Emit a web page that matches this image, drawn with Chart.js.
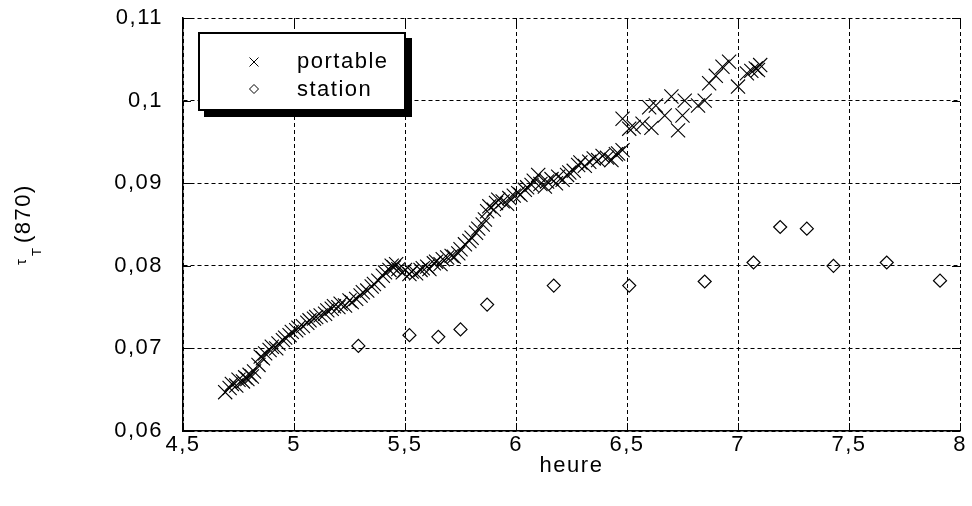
<!DOCTYPE html>
<html>
<head>
<meta charset="utf-8">
<script src="https://cdn.jsdelivr.net/npm/chart.js@4/dist/chart.umd.min.js"></script>
<style>
html,body{margin:0;padding:0;background:#fff;}
#c{display:block;}
</style>
</head>
<body>
<canvas id="c" width="972" height="506"></canvas>
<script>
// ---- data ----
const xTicks = [4.5, 5, 5.5, 6, 6.5, 7, 7.5, 8];
const yTicks = [0.06, 0.07, 0.08, 0.09, 0.1, 0.11];

const portableX = [
4.69,4.71,4.72,4.74,4.75,4.77,4.78,4.79,4.80,4.81,4.82,4.84,4.85,4.86,4.87,4.89,4.90,4.92,4.93,4.95,
4.96,4.98,4.99,5.01,5.02,5.04,5.06,5.07,5.09,5.10,5.12,5.14,5.15,5.17,5.18,5.20,5.21,5.23,5.25,5.26,
5.28,5.30,5.31,5.33,5.35,5.36,5.38,5.40,5.41,5.43,5.44,5.45,5.46,5.47,5.49,5.50,5.52,5.53,5.55,5.57,
5.58,5.60,5.61,5.63,5.64,5.66,5.67,5.69,5.71,5.72,5.74,5.75,5.77,5.79,5.80,5.82,5.83,5.85,5.86,5.87,
5.88,5.90,5.91,5.92,5.94,5.96,5.97,5.99,6.01,6.02,6.04,6.05,6.07,6.08,6.10,6.11,6.13,6.14,6.16,6.18,
6.19,6.21,6.23,6.24,6.26,6.28,6.29,6.31,6.33,6.35,6.37,6.39,6.41,6.43,6.45,6.46,6.48,
6.48,6.51,6.53,6.57,6.61,6.60,6.63,6.67,6.70,6.73,6.75,6.76,6.82,6.85,6.87,6.90,6.93,6.96,7.00,7.04,
7.06,7.08,7.09,7.10
];
const portableY = [
0.0647,0.0652,0.0657,0.0655,0.0662,0.0660,0.0665,0.0663,0.0668,0.0666,0.0672,0.0680,0.0690,0.0688,0.0694,0.0698,0.0702,0.0700,0.0706,0.0710,
0.0713,0.0716,0.0720,0.0722,0.0725,0.0727,0.0731,0.0734,0.0736,0.0738,0.0740,0.0742,0.0746,0.0748,0.0751,0.0750,0.0754,0.0752,0.0758,0.0756,
0.0760,0.0764,0.0768,0.0770,0.0775,0.0778,0.0782,0.0788,0.0792,0.0795,0.0800,0.0798,0.0802,0.0796,0.0792,0.0795,0.0790,0.0793,0.0791,0.0795,
0.0797,0.0799,0.0796,0.0803,0.0805,0.0802,0.0808,0.0810,0.0812,0.0811,0.0815,0.0820,0.0826,0.0830,0.0834,0.0840,0.0845,0.0850,0.0856,0.0866,
0.0872,0.0868,0.0876,0.0880,0.0878,0.0875,0.0882,0.0885,0.0888,0.0886,0.0892,0.0895,0.0898,0.0903,0.0910,0.0899,0.0896,0.0902,0.0905,0.0900,
0.0908,0.0904,0.0910,0.0913,0.0915,0.0922,0.0925,0.0921,0.0926,0.0930,0.0928,0.0933,0.0931,0.0928,0.0935,0.0936,0.0940,
0.0978,0.0966,0.0968,0.0972,0.0967,0.0992,0.0994,0.0982,0.1005,0.0964,0.0982,0.1000,0.0994,0.1000,0.1021,0.1030,0.1041,0.1047,0.1017,0.1033,
0.1036,0.1039,0.1037,0.1043
];

const stationX = [5.29, 5.52, 5.65, 5.75, 5.87, 6.17, 6.51, 6.85, 7.07, 7.19, 7.31, 7.43, 7.67, 7.91];
const stationY = [0.0703, 0.0716, 0.0714, 0.0723, 0.0753, 0.0776, 0.0776, 0.0781, 0.0804, 0.0847, 0.0845, 0.0800, 0.0804, 0.0782];

const seriesNames = ['portable', 'station'];
const xTitle = 'heure';

// ---- styling ----
const FONT = "'Liberation Sans', Arial, sans-serif";
const fmt = v => String(Number(v.toFixed(2))).replace('.', ',');

const portablePts = portableX.map((x, i) => ({x, y: portableY[i]}));
const stationPts = stationX.map((x, i) => ({x, y: stationY[i]}));

const decor = {
  id: 'decor',
  beforeDraw(chart) {
    const c = chart.ctx;
    c.save();
    c.fillStyle = '#fff';
    c.fillRect(0, 0, chart.width, chart.height);
    c.restore();
    c.letterSpacing = '1.5px';
  },
  afterDraw(chart) {
    const c = chart.ctx;
    const a = chart.chartArea;
    const xs = chart.scales.x, ys = chart.scales.y;
    c.save();
    c.letterSpacing = '0px';
    // inward tick marks on all sides
    c.strokeStyle = '#000';
    c.lineWidth = 1;
    c.setLineDash([]);
    c.beginPath();
    const TL = 8;
    xTicks.forEach(v => {
      const px = Math.round(xs.getPixelForValue(v)) + 0.5;
      c.moveTo(px, a.bottom); c.lineTo(px, a.bottom - TL);
      c.moveTo(px, a.top); c.lineTo(px, a.top + TL);
    });
    yTicks.forEach(v => {
      const py = Math.round(ys.getPixelForValue(v)) + 0.5;
      c.moveTo(a.left, py); c.lineTo(a.left + TL, py);
      c.moveTo(a.right, py); c.lineTo(a.right - TL, py);
    });
    c.stroke();

    // x title
    c.fillStyle = '#000';
    c.letterSpacing = '1.5px';
    c.font = '22px ' + FONT;
    c.textAlign = 'center';
    c.textBaseline = 'middle';
    c.fillText(xTitle, (a.left + a.right) / 2, 466);

    // y title (rotated): tau, subscript T, (870)
    c.save();
    c.rotate(-Math.PI / 2);
    c.textAlign = 'left';
    c.textBaseline = 'alphabetic';
    c.letterSpacing = '0px';
    c.font = '15px ' + FONT;
    c.fillText('τ', -265, 26);
    c.font = '13px ' + FONT;
    c.fillText('T', -256, 41);
    c.letterSpacing = '1.5px';
    c.font = '22px ' + FONT;
    c.fillText('(870)', -243, 30);
    c.restore();

    // legend box with shadow
    const L = 198, T = 32, W = 208, H = 79;
    c.fillStyle = '#000';
    c.fillRect(L + 6, T + 6, W, H);
    c.fillStyle = '#fff';
    c.fillRect(L, T, W, H);
    c.lineWidth = 2;
    c.strokeStyle = '#000';
    c.strokeRect(L + 1, T + 1, W - 2, H - 2);
    // markers
    c.lineWidth = 1;
    c.beginPath();
    c.moveTo(249.5, 57.5); c.lineTo(258.5, 66.5);
    c.moveTo(258.5, 57.5); c.lineTo(249.5, 66.5);
    c.stroke();
    c.beginPath();
    c.moveTo(254, 84.5); c.lineTo(258.5, 89); c.lineTo(254, 93.5); c.lineTo(249.5, 89); c.closePath();
    c.stroke();
    c.fillStyle = '#000';
    c.font = '22px ' + FONT;
    c.textAlign = 'left';
    c.textBaseline = 'middle';
    c.letterSpacing = '1.5px';
    c.fillText(seriesNames[0], 297, 62);
    c.fillText(seriesNames[1], 297, 90);
    c.restore();
  }
};

new Chart(document.getElementById('c'), {
  type: 'scatter',
  data: {
    datasets: [
      {
        label: seriesNames[0],
        data: portablePts,
        pointStyle: 'crossRot',
        pointRadius: 10,
        borderColor: '#000',
        backgroundColor: '#000',
        pointBorderWidth: 1.1,
        showLine: false
      },
      {
        label: seriesNames[1],
        data: stationPts,
        pointStyle: 'rectRot',
        pointRadius: 6.5,
        borderColor: '#000',
        backgroundColor: 'rgba(255,255,255,0)',
        pointBorderWidth: 1.2,
        showLine: false
      }
    ]
  },
  options: {
    responsive: false,
    devicePixelRatio: 1,
    animation: false,
    events: [],
    layout: { padding: { left: 0, right: 12, top: 18, bottom: 0 } },
    plugins: { legend: { display: false }, tooltip: { enabled: false } },
    scales: {
      x: {
        type: 'linear',
        min: 4.5, max: 8,
        afterFit: s => { s.height = 75; s.paddingLeft = 0; s.paddingRight = 0; },
        afterBuildTicks: s => { s.ticks = xTicks.map(v => ({value: v})); },
        grid: { color: '#000', lineWidth: 1, drawTicks: false },
        border: { display: true, color: '#000', width: 1.5, dash: [4, 3] },
        ticks: {
          color: '#000', padding: 1, maxRotation: 0, autoSkip: false,
          font: { family: FONT, size: 22 },
          callback: v => fmt(v)
        }
      },
      y: {
        type: 'linear',
        min: 0.06, max: 0.11,
        afterFit: s => { s.width = 183; s.paddingTop = 0; s.paddingBottom = 0; },
        afterBuildTicks: s => { s.ticks = yTicks.map(v => ({value: v})); },
        grid: { color: '#000', lineWidth: 1, drawTicks: false },
        border: { display: true, color: '#000', width: 1.5, dash: [4, 3] },
        ticks: {
          color: '#000', padding: 20, autoSkip: false,
          font: { family: FONT, size: 22 },
          callback: v => fmt(v)
        }
      }
    }
  },
  plugins: [decor]
});
</script>
</body>
</html>
